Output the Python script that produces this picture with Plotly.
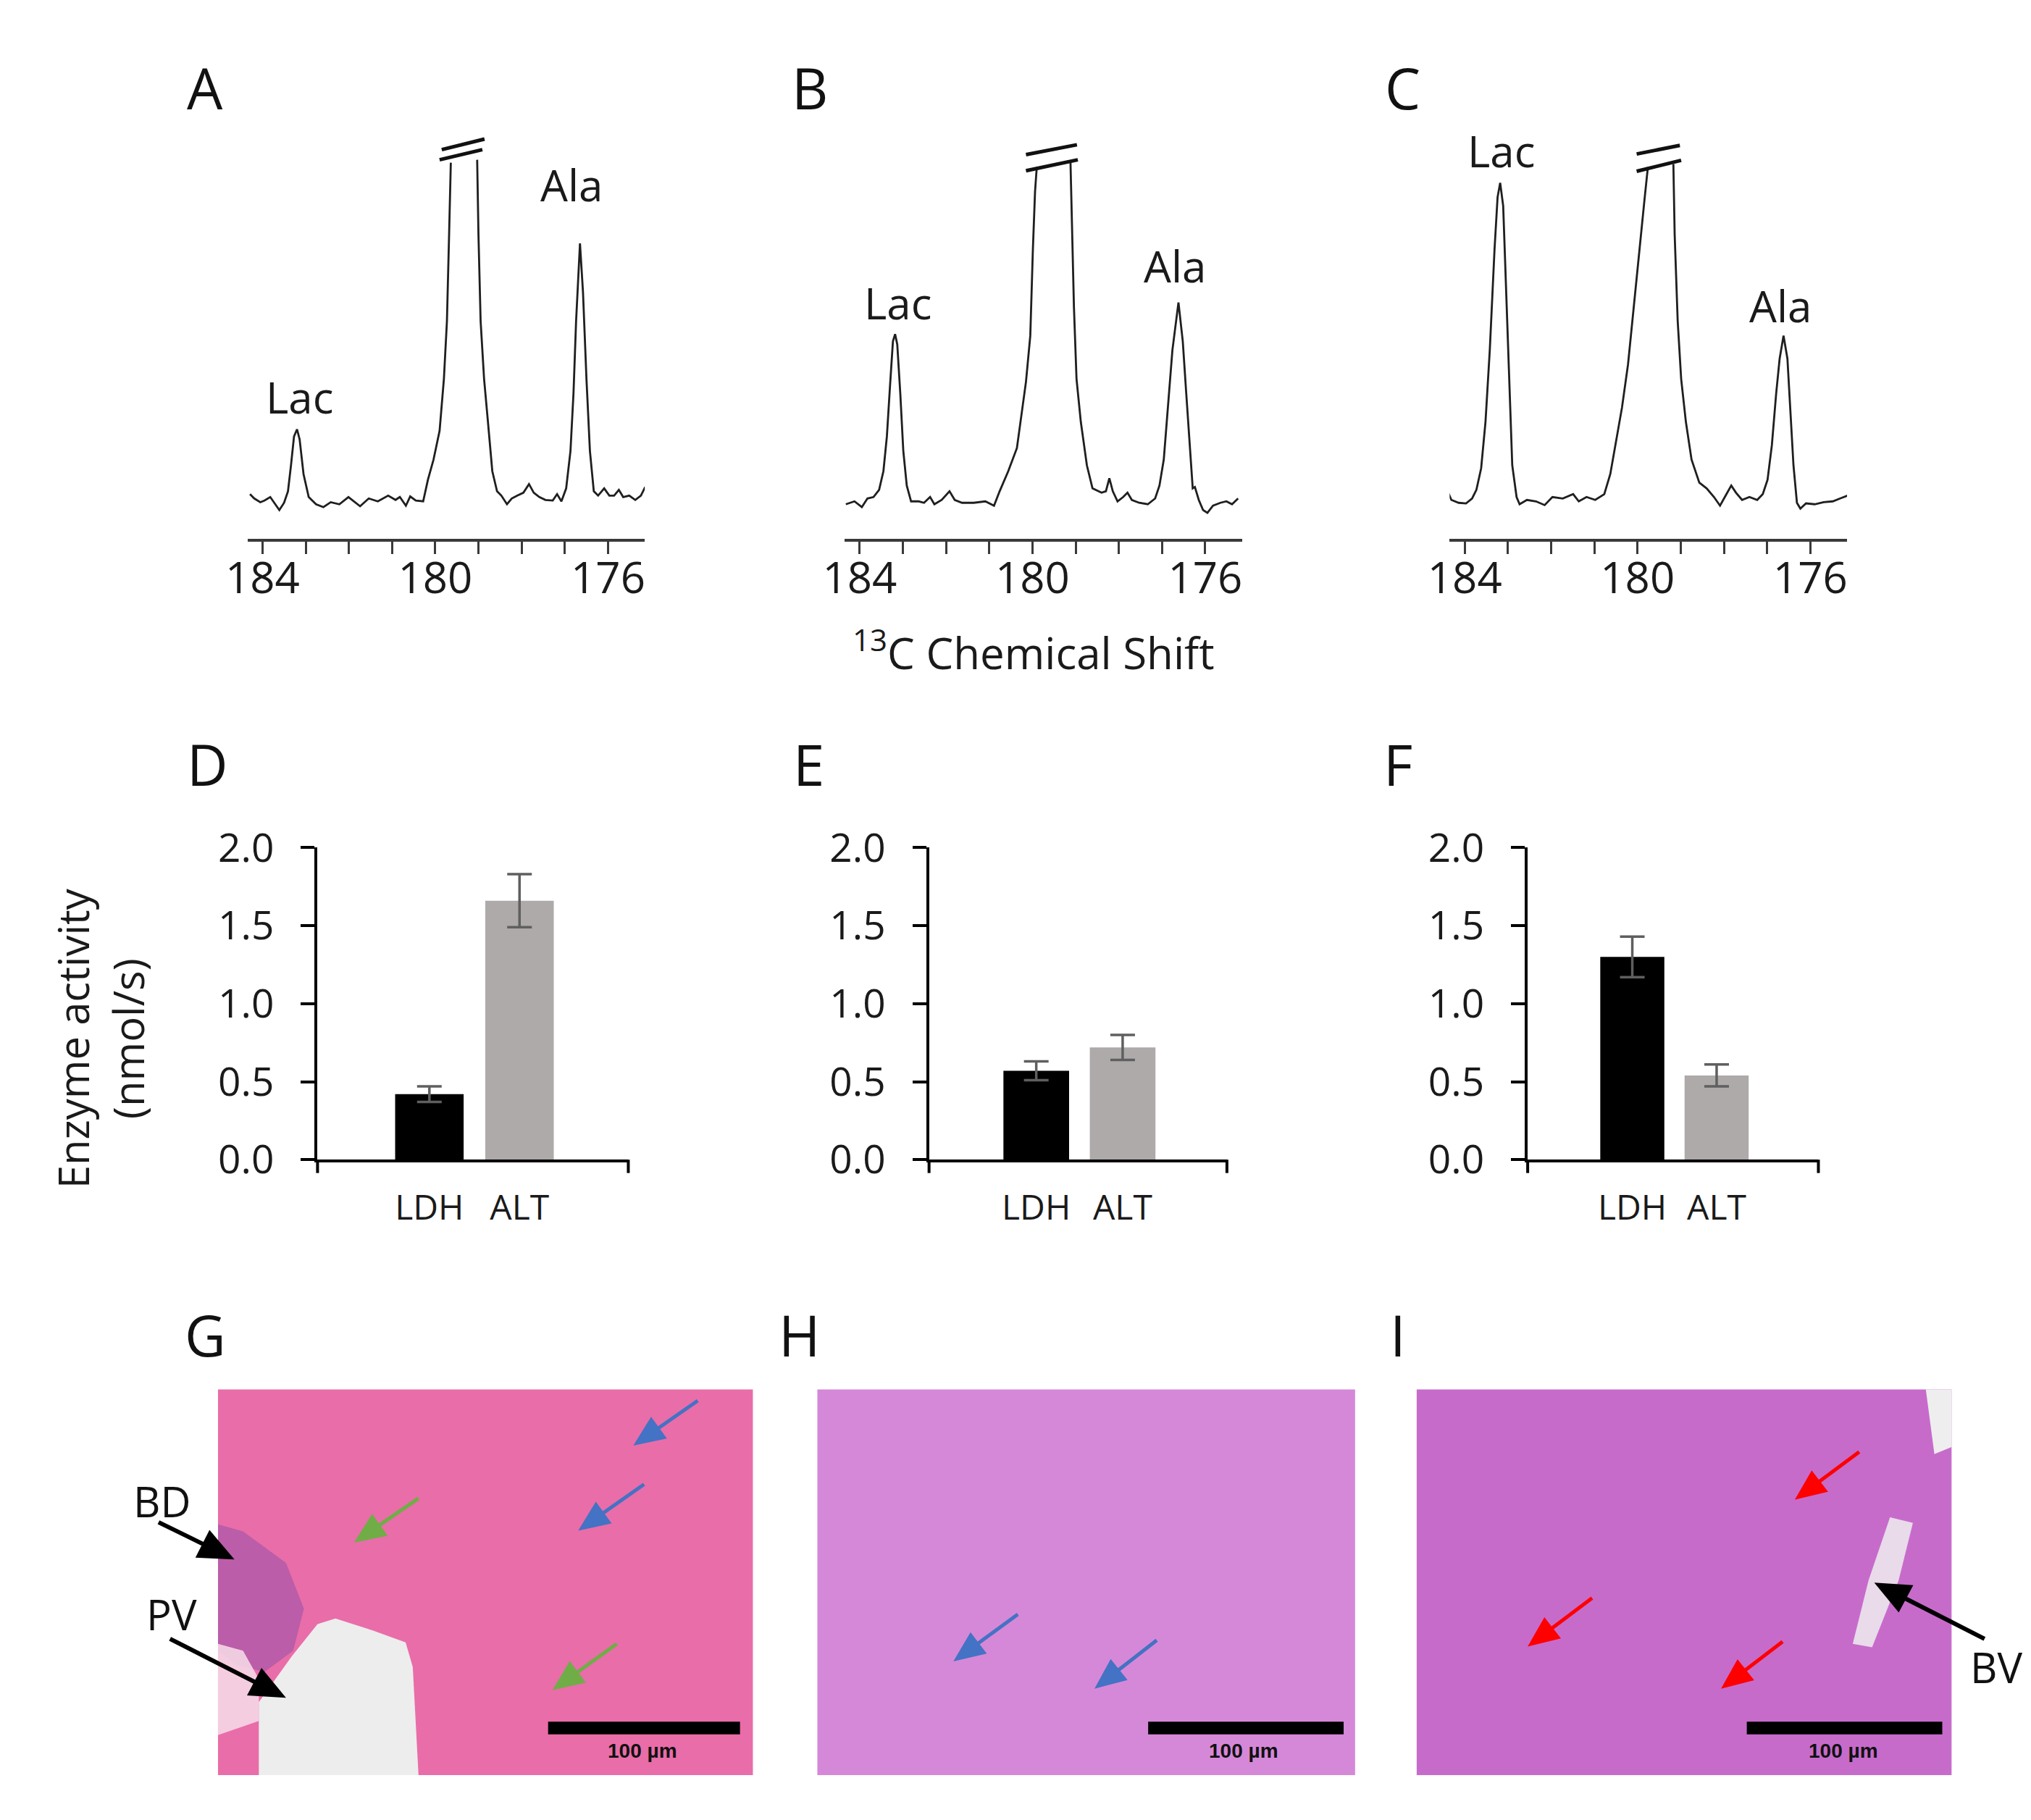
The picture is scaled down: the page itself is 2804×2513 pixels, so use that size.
import math
import plotly.graph_objects as go

W, H = 2804, 2513


def px(x):
    return x / W


def py(y):
    return 1 - y / H


FONT = "Open Sans"
INK = "#1a1a1a"

# ------------------------------------------------------------------
# DATA
# 13C spectra: chemical shift (ppm) and intensity (a.u.); None = broken (off-scale) peak top
ppm_A = [184.29, 184.19, 184.05, 183.95, 183.82, 183.71, 183.61, 183.50, 183.41, 183.34, 183.27,
         183.20, 183.14, 183.05, 182.93, 182.76, 182.59, 182.42, 182.22, 182.01, 181.88, 181.74,
         181.54, 181.33, 181.09, 180.92, 180.82, 180.68, 180.58, 180.45, 180.28, 180.17, 180.04,
         179.90, 179.80, 179.73, 179.68, 179.64, None, 179.03, 179.00, 178.95, 178.87, 178.78,
         178.68, 178.57, 178.47, 178.34, 178.23, 178.10, 177.96, 177.83, 177.72, 177.59, 177.45,
         177.28, 177.18, 177.08, 176.97, 176.87, 176.80, 176.74, 176.65, 176.58, 176.50, 176.42,
         176.33, 176.23, 176.09, 175.97, 175.86, 175.75, 175.65, 175.51, 175.37, 175.24, 175.14]
int_A = [0.30, 0.15, 0.02, 0.08, 0.20, -0.05, -0.25, 0.00, 0.40, 1.30, 2.30,
         2.55, 2.20, 1.00, 0.20, -0.05, -0.15, 0.02, -0.05, 0.20, 0.05, -0.12,
         0.15, 0.05, 0.25, 0.10, 0.20, -0.10, 0.22, 0.08, 0.05, 0.80, 1.50,
         2.50, 4.30, 6.30, 9.30, 11.80, None, 11.90, 9.30, 6.30, 4.30, 2.80,
         1.10, 0.40, 0.25, -0.05, 0.15, 0.25, 0.35, 0.65, 0.35, 0.20, 0.10,
         0.08, 0.30, 0.05, 0.50, 1.80, 3.80, 6.30, 9.00, 7.30, 4.30, 1.80,
         0.40, 0.25, 0.50, 0.25, 0.25, 0.45, 0.20, 0.25, 0.10, 0.25, 0.55]

ppm_B = [184.32, 184.12, 183.95, 183.82, 183.68, 183.55, 183.45, 183.37, 183.30, 183.23, 183.18,
         183.13, 183.06, 182.99, 182.91, 182.81, 182.64, 182.51, 182.37, 182.27, 182.10, 181.92,
         181.80, 181.63, 181.36, 181.09, 180.89, 180.76, 180.56, 180.36, 180.15, 180.05, 179.99,
         179.94, 179.90, None, 179.12, 179.09, 179.04, 178.98, 178.88, 178.74, 178.61, 178.40,
         178.30, 178.22, 178.14, 178.03, 177.90, 177.80, 177.70, 177.53, 177.33, 177.16, 177.06,
         176.96, 176.86, 176.76, 176.62, 176.52, 176.44, 176.35, 176.29, 176.24, 176.15, 176.05,
         175.95, 175.82, 175.65, 175.51, 175.38, 175.24]
int_B = [-0.05, 0.05, -0.15, 0.15, 0.20, 0.45, 1.10, 2.30, 4.00, 5.60, 5.85,
         5.50, 3.80, 1.80, 0.60, 0.05, 0.05, 0.00, 0.20, -0.05, 0.10, 0.40,
         0.10, 0.00, 0.00, 0.05, -0.10, 0.40, 1.10, 1.90, 4.20, 5.80, 8.80,
         10.80, 11.65, None, 11.85, 9.80, 6.80, 4.30, 2.80, 1.30, 0.50, 0.35,
         0.40, 0.85, 0.40, 0.05, 0.20, 0.35, 0.10, 0.00, -0.05, 0.15, 0.60,
         1.50, 3.30, 5.30, 6.95, 5.60, 3.80, 1.80, 0.50, 0.55, 0.10, -0.25,
         -0.35, -0.10, 0.00, 0.05, -0.05, 0.15]

ppm_C = [184.38, 184.31, 184.14, 183.97, 183.83, 183.73, 183.62, 183.52, 183.42, 183.31, 183.24,
         183.18, 183.11, 183.04, 182.97, 182.90, 182.80, 182.73, 182.56, 182.35, 182.15, 181.97,
         181.73, 181.49, 181.36, 181.18, 180.98, 180.77, 180.63, 180.50, 180.36, 180.22, 180.09,
         179.95, 179.84, 179.76, None, 179.17, 179.14, 179.07, 178.99, 178.88, 178.75, 178.57,
         178.40, 178.23, 178.09, 177.96, 177.83, 177.72, 177.58, 177.41, 177.23, 177.10, 176.99,
         176.89, 176.79, 176.71, 176.62, 176.53, 176.46, 176.39, 176.31, 176.23, 176.10, 175.90,
         175.69, 175.48, 175.31, 175.14]
int_C = [0.35, 0.10, 0.00, -0.02, 0.15, 0.45, 1.20, 2.80, 5.30, 8.80, 10.60,
         11.10, 10.30, 7.30, 3.80, 1.30, 0.20, -0.05, 0.10, 0.05, -0.08, 0.20,
         0.15, 0.30, 0.05, 0.20, 0.10, 0.30, 1.00, 2.10, 3.30, 4.80, 6.80,
         9.00, 10.50, 11.65, None, 11.75, 9.30, 6.30, 4.30, 2.80, 1.50, 0.70,
         0.50, 0.20, -0.10, 0.25, 0.60, 0.35, 0.10, 0.20, 0.10, 0.30, 0.80,
         2.00, 3.80, 5.00, 5.80, 5.00, 3.30, 1.30, 0.00, -0.20, -0.02, -0.05,
         0.02, 0.05, 0.15, 0.25]

# axis break marks on the off-scale pyruvate peak: (ppm0, y0, ppm1, y1)
break_A = [(179.85, 12.25, 178.86, 12.62), (179.90, 11.90, 178.91, 12.25)]
break_B = [(180.15, 12.08, 178.97, 12.42), (180.15, 11.52, 178.95, 11.90)]
break_C = [(180.02, 12.10, 179.02, 12.40), (180.02, 11.50, 178.99, 11.88)]

ppm_major = [184, 180, 176]
ppm_minor = [183, 182, 181, 179, 178, 177]

# Enzyme activity (nmol/s), mean and error
enzymes = ["LDH", "ALT"]
act_D = [0.42, 1.66]
err_D = [0.05, 0.17]
act_E = [0.57, 0.72]
err_E = [0.06, 0.08]
act_F = [1.30, 0.54]
err_F = [0.13, 0.07]
act_ticks = [0.0, 0.5, 1.0, 1.5, 2.0]

# ------------------------------------------------------------------
fig = go.Figure()
layout = dict(
    width=W, height=H, margin=dict(l=0, r=0, t=0, b=0, pad=0), autosize=False,
    paper_bgcolor="white", plot_bgcolor="rgba(0,0,0,0)",
    showlegend=False, font=dict(family=FONT, color=INK, size=40),
)
shapes = []
annotations = []


def label(text, x, y, size, xref="paper", yref="paper", color="#111111", family=FONT, **kw):
    d = dict(text=text, xref=xref, yref=yref, x=x, y=y, showarrow=False,
             xanchor="center", yanchor="middle",
             font=dict(size=size, color=color, family=family))
    d.update(kw)
    annotations.append(d)


# ---------------- spectra A-C ----------------
spectra = [(ppm_A, int_A, break_A), (ppm_B, int_B, break_B), (ppm_C, int_C, break_C)]
spec_xdom = [(306, 861), (1140, 1695), (1985, 2540)]
spec_ydom = (141, 717)
peak_labels = [
    [("Lac", 183.14, 3.68), ("Ala", 176.84, 11.04)],
    [("Lac", 183.11, 6.95), ("Ala", 176.70, 8.21)],
    [("Lac", 183.16, 12.21), ("Ala", 176.69, 6.85)],
]
AX = "#3a3a3a"
for i, (xs, ys, brk) in enumerate(spectra):
    n = i + 1
    xa, ya = ("x", "y") if n == 1 else (f"x{n}", f"y{n}")
    fig.add_trace(go.Scatter(x=xs, y=ys, mode="lines", connectgaps=False,
                             line=dict(color="#1f1f1f", width=2.8),
                             xaxis=xa, yaxis=ya, hoverinfo="skip"))
    xk = "xaxis" if n == 1 else f"xaxis{n}"
    yk = "yaxis" if n == 1 else f"yaxis{n}"
    layout[xk] = dict(domain=[px(spec_xdom[i][0]), px(spec_xdom[i][1])], anchor=ya,
                      range=[184.35, 175.15], showgrid=False, zeroline=False,
                      showline=True, linecolor=AX, linewidth=3.5,
                      tickmode="array", tickvals=ppm_major, ticktext=[str(v) for v in ppm_major],
                      ticks="outside", ticklen=18, tickwidth=3, tickcolor=AX,
                      minor=dict(tickmode="array", tickvals=ppm_minor, ticks="outside",
                                 ticklen=18, tickwidth=3, tickcolor=AX, showgrid=False),
                      tickfont=dict(size=60, color=INK, family=FONT),
                      ticklabelstandoff=-18, fixedrange=True)
    layout[yk] = dict(domain=[py(spec_ydom[1]), py(spec_ydom[0])], anchor=xa,
                      range=[-1.24, 12.8], visible=False, fixedrange=True)
    for (x0, y0, x1, y1) in brk:
        shapes.append(dict(type="line", xref=xa, yref=ya, x0=x0, y0=y0, x1=x1, y1=y1,
                           line=dict(color="#111111", width=5)))
    for (txt, xx, yy) in peak_labels[i]:
        label(txt, xx, yy, 60, xref=xa, yref=ya, color=INK)

label("<sup>13</sup>C Chemical Shift", px(1404), py(876), 60, color=INK)

# ---------------- bar charts D-F ----------------
bars = [(act_D, err_D), (act_E, err_E), (act_F, err_F)]
bar_xdom = [(404, 838), (1258, 1674), (2094, 2500)]
bar_ydom = (1157, 1601)
for j, (vals, errs) in enumerate(bars):
    n = 4 + j
    xa, ya = f"x{n}", f"y{n}"
    fig.add_trace(go.Bar(x=enzymes, y=vals, width=0.76, xaxis=xa, yaxis=ya,
                         marker=dict(color=["#000000", "#AEAAAA"], line=dict(width=0)),
                         error_y=dict(type="data", array=errs, color="#5f5f5f",
                                      thickness=3.5, width=17),
                         hoverinfo="skip"))
    layout[f"xaxis{n}"] = dict(domain=[px(bar_xdom[j][0]), px(bar_xdom[j][1])], anchor=ya,
                               type="category", range=[-1.241, 2.207],
                               showgrid=False, zeroline=False, showline=True,
                               linecolor="#000000", linewidth=4, ticks="",
                               tickfont=dict(size=48, color=INK, family=FONT),
                               ticklabelstandoff=21, fixedrange=True)
    layout[f"yaxis{n}"] = dict(domain=[py(bar_ydom[1]), py(bar_ydom[0])], anchor=xa,
                               range=[0, 2], showgrid=False, zeroline=False,
                               showline=True, linecolor="#000000", linewidth=4,
                               ticks="outside", ticklen=19, tickwidth=4, tickcolor="#000000",
                               tickvals=act_ticks, ticktext=[f"{v:.1f}" for v in act_ticks],
                               tickfont=dict(size=55, color=INK, family=FONT),
                               ticklabelstandoff=26, fixedrange=True)
    for xd in (0, 1):
        shapes.append(dict(type="line", xref=f"{xa} domain", yref=f"{ya} domain",
                           x0=xd, x1=xd, y0=0, y1=-19 / 444,
                           line=dict(color="#000000", width=4)))

label("Enzyme activity<br>(nmol/s)", px(101), py(1428), 58, color=INK, textangle=-90)

# ---------------- panel letters ----------------
letters = [("A", 247, 75), ("B", 1091, 75), ("C", 1919, 75),
           ("D", 250, 1038), ("E", 1090, 1038), ("F", 1913, 1038),
           ("G", 247, 1850), ("H", 1077, 1850), ("I", 1913, 1850)]
for t, x, y in letters:
    label(t, px(x), py(y), 78)

# ---------------- histology panels G-I (schematic) ----------------
hist = [((265, 1012), "#E96DA8"), ((1102, 1853), "#D688D8"), ((1939, 2686), "#C76BCB")]
ytop, ybot = 1928, 2477
for (x0, x1), col in hist:
    shapes.append(dict(type="rect", xref="paper", yref="paper", x0=px(x0), x1=px(x1),
                       y0=py(ybot), y1=py(ytop), fillcolor=col, line=dict(width=0),
                       layer="below"))


def path(points):
    return "M " + " L ".join(f"{px(a):.5f},{py(b):.5f}" for a, b in points) + " Z"


shapes.append(dict(type="path", xref="paper", yref="paper",
                   path=path([(265, 2120), (300, 2130), (360, 2175), (385, 2240), (370, 2300),
                              (330, 2330), (290, 2320), (265, 2300)]),
                   fillcolor="rgba(150,80,170,0.55)", line=dict(width=0)))
shapes.append(dict(type="path", xref="paper", yref="paper",
                   path=path([(265, 2290), (300, 2300), (322, 2340), (322, 2400), (265, 2420)]),
                   fillcolor="rgba(245,215,230,0.9)", line=dict(width=0)))
shapes.append(dict(type="path", xref="paper", yref="paper",
                   path=path([(322, 2477), (322, 2373), (368, 2308), (404, 2262), (429, 2254),
                              (481, 2271), (527, 2288), (537, 2323), (545, 2477)]),
                   fillcolor="#EDEDED", line=dict(width=0)))
shapes.append(dict(type="path", xref="paper", yref="paper",
                   path=path([(2650, 1928), (2686, 1928), (2686, 2010), (2662, 2020)]),
                   fillcolor="#EEEEEE", line=dict(width=0)))
shapes.append(dict(type="path", xref="paper", yref="paper",
                   path=path([(2600, 2110), (2632, 2118), (2612, 2200), (2575, 2295), (2548, 2290),
                              (2570, 2200)]),
                   fillcolor="rgba(235,225,235,0.95)", line=dict(width=0)))

for (x0, x1), tx in [((726, 994), 858), ((1564, 1837), 1697), ((2400, 2673), 2535)]:
    shapes.append(dict(type="rect", xref="paper", yref="paper", x0=px(x0), x1=px(x1),
                       y0=py(2419), y1=py(2401), fillcolor="#000000", line=dict(width=0)))
    label("<b>100 µm</b>", px(tx), py(2442), 28, family="Liberation Sans")

BLUE, GREEN, RED, BLACK = "#4472C4", "#70AD47", "#FF0000", "#000000"
# (head, tail, colour, line width, head length, head width) in page pixels
arrows = [
    ((845, 2008), (935, 1944), BLUE, 5, 44, 38), ((768, 2129), (860, 2063), BLUE, 5, 44, 38),
    ((455, 2146), (545, 2083), GREEN, 5, 44, 38), ((732, 2356), (822, 2290), GREEN, 5, 44, 38),
    ((288, 2170), (182, 2117), BLACK, 6, 50, 44), ((360, 2367), (198, 2283), BLACK, 6, 50, 44),
    ((1292, 2315), (1382, 2248), BLUE, 5, 44, 38), ((1489, 2354), (1576, 2285), BLUE, 5, 44, 38),
    ((2467, 2085), (2557, 2017), RED, 5, 44, 38), ((2094, 2294), (2184, 2225), RED, 5, 44, 38),
    ((2364, 2354), (2450, 2287), RED, 5, 44, 38), ((2578, 2203), (2732, 2283), BLACK, 6, 50, 44),
]
for (hx, hy), (tx, ty), col, lw, hl, hw in arrows:
    dx, dy = hx - tx, hy - ty
    d = math.hypot(dx, dy)
    ux, uy = dx / d, dy / d
    vx, vy = -uy, ux
    bx, by = hx - hl * ux, hy - hl * uy
    shapes.append(dict(type="line", xref="paper", yref="paper",
                       x0=px(tx), y0=py(ty), x1=px(bx + 3 * ux), y1=py(by + 3 * uy),
                       line=dict(color=col, width=lw)))
    shapes.append(dict(type="path", xref="paper", yref="paper",
                       path=path([(hx, hy), (bx + hw / 2 * vx, by + hw / 2 * vy),
                                  (bx - hw / 2 * vx, by - hw / 2 * vy)]),
                       fillcolor=col, line=dict(width=0)))

for t, x, y in [("BD", 187, 2087), ("PV", 200, 2248), ("BV", 2748, 2323)]:
    label(t, px(x), py(y), 58)

layout["shapes"] = shapes
layout["annotations"] = annotations
fig.update_layout(**layout)
fig.write_html("out.html")
